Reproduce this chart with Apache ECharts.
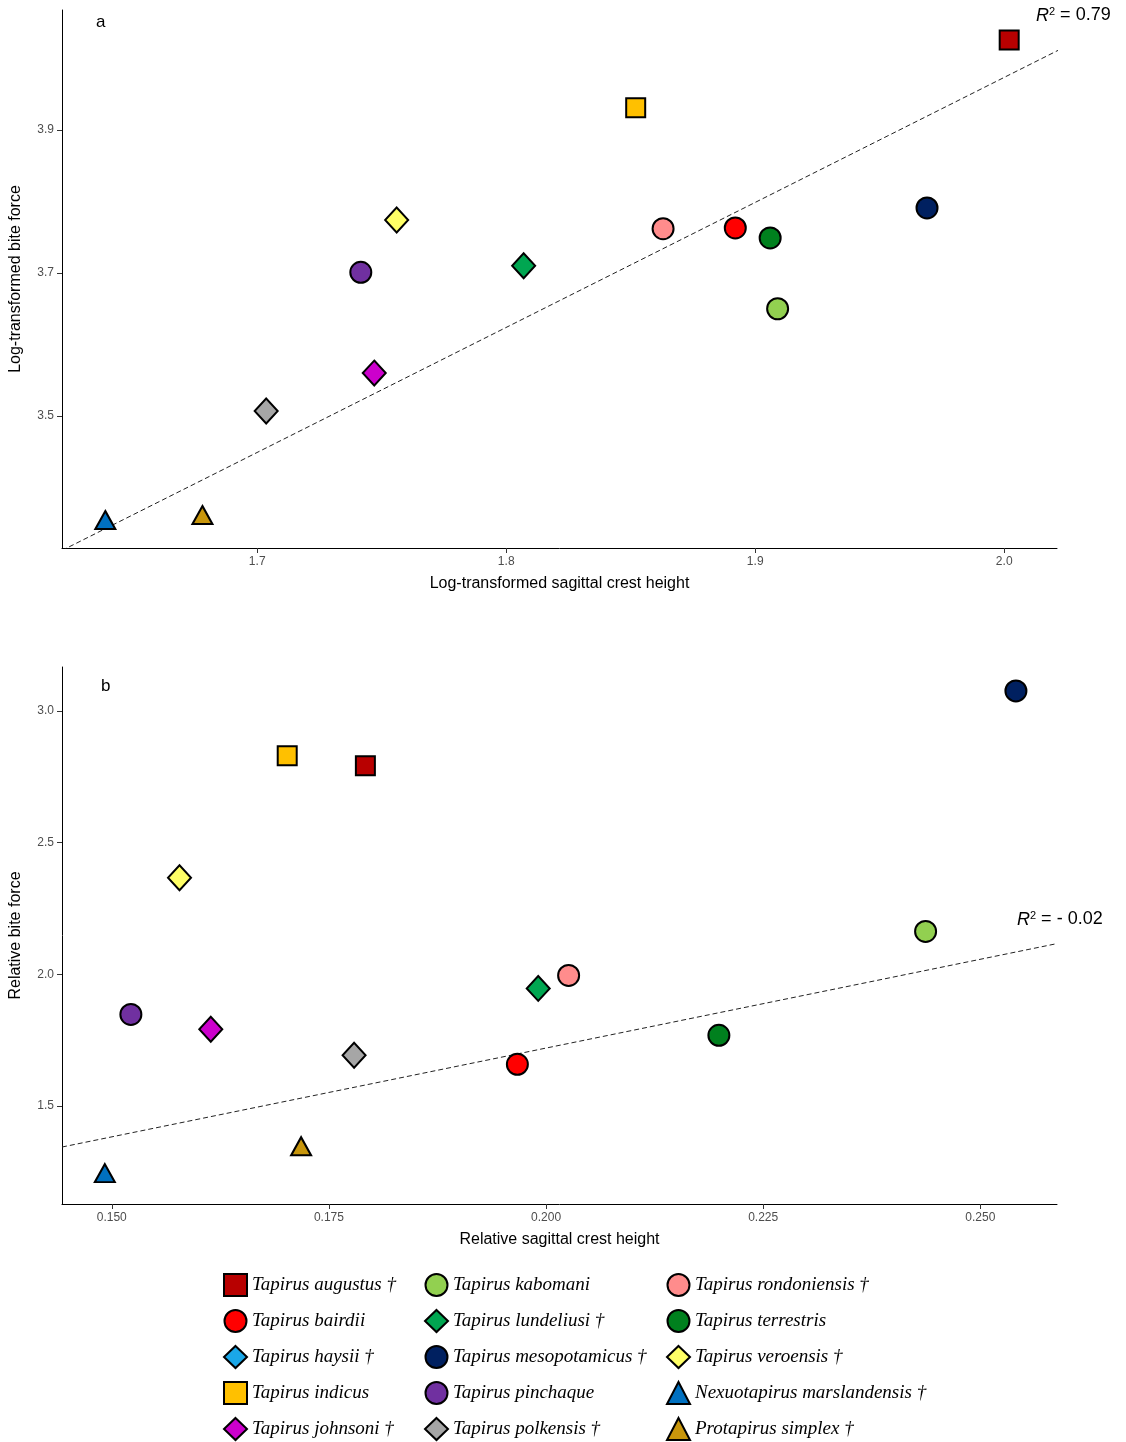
<!DOCTYPE html>
<html><head><meta charset="utf-8">
<script src="https://cdn.jsdelivr.net/npm/echarts@6/dist/echarts.min.js"></script>
<style>body{margin:0;background:#fff}#main{width:1126px;height:1442px}</style>
</head><body><div id="main"></div>
<script>
// species, shape, colour
var species = ['Tapirus augustus †','Tapirus bairdii','Tapirus haysii †','Tapirus indicus','Tapirus johnsoni †',
  'Tapirus kabomani','Tapirus lundeliusi †','Tapirus mesopotamicus †','Tapirus pinchaque','Tapirus polkensis †',
  'Tapirus rondoniensis †','Tapirus terrestris','Tapirus veroensis †','Nexuotapirus marslandensis †','Protapirus simplex †'];
var shapes = ['rect','circle','diamond','rect','diamond','circle','diamond','circle','circle','diamond','circle','circle','diamond','triangle','triangle'];
var colors = ['#B80000','#FF0000','#1AA7E8','#FFC000','#CC00CC','#92D050','#00A651','#002060','#7030A0','#A6A6A6','#FF8C8C','#00801E','#FFFF66','#0070C0','#C8960C'];

// panel a: log crest height, log bite force (null = not plotted)
var logCrest = [2.002,1.892,null,1.852,1.747,1.909,1.807,1.969,1.7416,1.7036,1.863,1.906,1.756,1.639,1.678];
var logBite  = [4.026,3.763,null,3.931,3.560,3.650,3.710,3.791,3.701,3.507,3.762,3.749,3.774,3.3545,3.3615];
// panel b: relative crest height, relative bite force
var relCrest = [0.1792,0.1967,null,0.1702,0.1614,0.2437,0.1991,0.2541,0.1522,0.1779,0.2026,0.2199,0.1578,0.1492,0.1718];
var relBite  = [2.792,1.659,null,2.830,1.792,2.163,1.947,3.076,1.848,1.693,1.996,1.769,2.367,1.246,1.348];

// tick labels
var ticksXA = [1.7,1.8,1.9,2.0];
var ticksYA = [3.5,3.7,3.9];
var ticksXB = [0.15,0.175,0.2,0.225,0.25];
var ticksYB = [1.5,2.0,2.5,3.0];

// fitted lines [x0, y0, x1, y1]
var fitA = [1.6216, 3.312, 2.026, 4.019];
var fitB = [0.14427, 1.345, 0.25883, 2.117];

function sz(s){ return s==='rect'?19:(s==='diamond'?[23,25]:(s==='triangle'?[20,18]:21)); }

var series = [];
species.forEach(function(n,i){
  [[logCrest,logBite,0],[relCrest,relBite,1]].forEach(function(p){
    series.push({
      name:n, type:'scatter', xAxisIndex:p[2], yAxisIndex:p[2],
      symbol:shapes[i], symbolSize:sz(shapes[i]),
      itemStyle:{color:colors[i],borderColor:'#000',borderWidth:2,opacity:1},
      data: p[0][i]==null ? [] : [[p[0][i], p[1][i]]], z:3
    });
  });
});
series.push({type:'line',xAxisIndex:0,yAxisIndex:0,data:[[fitA[0],fitA[1]],[fitA[2],fitA[3]]],symbol:'none',
  lineStyle:{color:'#222',width:1,type:[5,3]},z:2,silent:true});
series.push({type:'line',xAxisIndex:1,yAxisIndex:1,data:[[fitB[0],fitB[1]],[fitB[2],fitB[3]]],symbol:'none',
  lineStyle:{color:'#222',width:1,type:[5,3]},z:2,silent:true});

function ax(o, ticks, dec){
  return Object.assign({
    type:'value',
    axisLine:{show:true,lineStyle:{color:'#000'}},
    axisTick:{show:true,customValues:ticks,lineStyle:{color:'#333'}},
    axisLabel:{color:'#4d4d4d',fontSize:12,fontFamily:'Arial',customValues:ticks,formatter:function(v){return v.toFixed(dec);}},
    splitLine:{show:false},
    nameLocation:'middle', nameTextStyle:{color:'#000',fontSize:16,fontFamily:'Arial'}
  }, o);
}

var legendTxt = {fontFamily:'Liberation Serif',fontStyle:'italic',fontSize:19,color:'#000'};
function leg(left, items){
  return {orient:'vertical',left:left,top:1268,height:200,itemGap:12,itemWidth:23,itemHeight:22,
    textStyle:legendTxt,data:items,selectedMode:false};
}
var rich = {i:{fontStyle:'italic',fontSize:18,fontFamily:'Arial'},s:{fontSize:11,fontFamily:'Arial',verticalAlign:'top',padding:[0,0,8,0]},t:{fontSize:18,fontFamily:'Arial'}};

var chart = echarts.init(document.getElementById('main'));
chart.setOption({
  animation:false,
  grid:[{left:54,top:10,width:1003,height:538},{left:54,top:667,width:1003,height:537}],
  xAxis:[
    ax({gridIndex:0,min:1.6216,max:2.0212,name:'Log-transformed sagittal crest height',nameGap:28}, ticksXA, 1),
    ax({gridIndex:1,min:0.14427,max:0.25883,name:'Relative sagittal crest height',nameGap:28}, ticksXB, 3)
  ],
  yAxis:[
    ax({gridIndex:0,min:3.3154,max:4.0678,name:'Log-transformed bite force',nameGap:38}, ticksYA, 1),
    ax({gridIndex:1,min:1.1288,max:3.1667,name:'Relative bite force',nameGap:38}, ticksYB, 1)
  ],
  legend:[
    leg(218,[species[0],species[1],species[2],species[3],species[4]]),
    leg(419,[species[5],species[6],species[7],species[8],species[9]]),
    leg(661,[species[10],species[11],species[12],species[13],species[14]])
  ],
  graphic:[
    {type:'text',left:96,top:14,style:{text:'a',font:'17px Arial',fill:'#000'}},
    {type:'text',left:101,top:678,style:{text:'b',font:'17px Arial',fill:'#000'}},
    {type:'text',left:1036,top:6,style:{rich:rich,text:'{i|R}{s|2}{t| = 0.79}',fill:'#000'}},
    {type:'text',left:1017,top:910,style:{rich:rich,text:'{i|R}{s|2}{t| = - 0.02}',fill:'#000'}}
  ],
  series:series
});
</script></body></html>
